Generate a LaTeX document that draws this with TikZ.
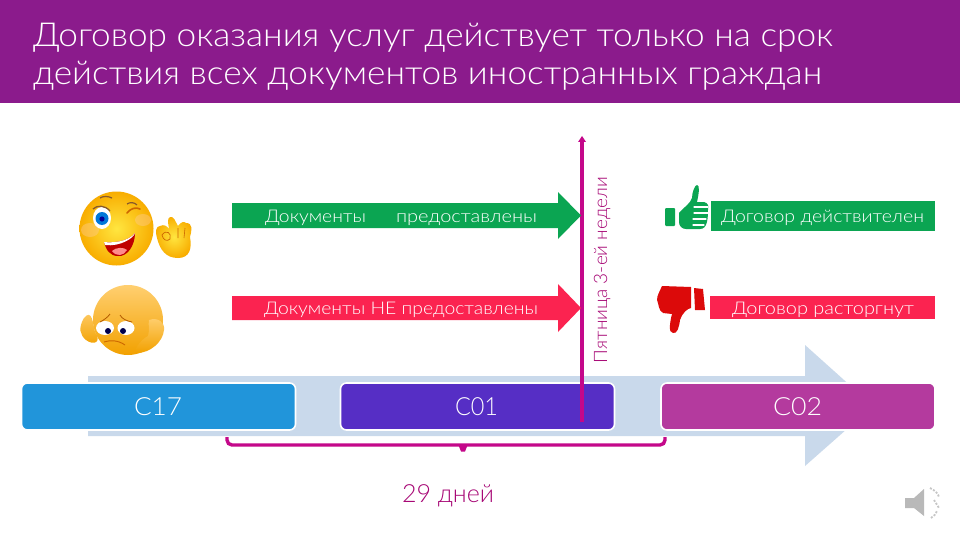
\documentclass[tikz,border=0pt]{standalone}
\usepackage{fontspec}
\usepackage{graphicx}
\setmainfont[FakeStretch=1.12]{Lato Light}
\usetikzlibrary{calc}
\definecolor{titlebg}{HTML}{8B1B8C}
\definecolor{okgreen}{HTML}{0BA552}
\definecolor{nopink}{HTML}{FB2350}
\definecolor{bandblue}{HTML}{C9D9EB}
\definecolor{cblue}{HTML}{2195DA}
\definecolor{cviolet}{HTML}{562EC5}
\definecolor{cplum}{HTML}{B43A9E}
\definecolor{mag}{HTML}{C4088A}
\definecolor{thumbred}{HTML}{DC0A0A}
\definecolor{gold}{HTML}{F7B500}
\definecolor{goldlight}{HTML}{FFE640}
\definecolor{amber}{HTML}{F2A100}
\definecolor{amberlight}{HTML}{FFCF70}
\newcommand\tw[2]{\resizebox{#1pt}{\height}{#2}}
\tikzset{
  lab/.style={anchor=base west,inner sep=0pt,outer sep=0pt,text=white},
  titletext/.style={lab,font=\fontsize{33}{33}\selectfont},
  small/.style={lab,font=\fontsize{17.5}{17.5}\selectfont},
  big/.style={lab,font=\fontsize{25}{25}\selectfont},
  cbox/.style={draw=white,line width=1.6pt,rounded corners=6pt,minimum height=47pt,minimum width=274pt,inner sep=0pt,outer sep=0pt},
  magline/.style={draw=mag,line width=3.4pt}
}
\begin{document}
\begin{tikzpicture}[x=1pt,y=-1pt]
\useasboundingbox (0,0) rectangle (960,540);
\fill[white] (0,0) rectangle (960,540);
% title
\fill[titlebg] (0,0) rectangle (960,103);
\node[titletext] (t1) at (33,47) {\tw{800}{Договор оказания услуг действует только на срок}};
\node[titletext] (t2) at (33,85) {\tw{789}{действия всех документов иностранных граждан}};
% big timeline arrow
\fill[bandblue] (88,376) -- (805,376) -- (805,345) -- (873,406) -- (805,466) -- (805,436) -- (88,436) -- cycle;
% process boxes
\node[cbox,fill=cblue] (c17) at (158.5,406.5) {};
\node[cbox,fill=cviolet] (c01) at (477.5,406.5) {};
\node[cbox,fill=cplum] (c02) at (798,406.5) {};
\node[big] (c17t) at (134,415) {\tw{48}{С17}};
\node[big] (c01t) at (455,415) {\tw{43}{С01}};
\node[big] (c02t) at (773,415) {\tw{49}{С02}};
% vertical line
\coordinate (vtop) at (582,136);
\coordinate (vbot) at (582,422);
\draw[magline] (vbot) -- (582,141);
\fill[mag] (vtop) -- (586,142) -- (578,142) -- cycle;
\node[lab,text=mag!85!black,rotate=90,font=\fontsize{18.5}{18.5}\selectfont] (fri) at (607,363) {\tw{186}{Пятница 3-ей недели}};
% horizontal arrows
\fill[okgreen] (232,203) -- (558,203) -- (558,192) -- (581,215.5) -- (558,239) -- (558,228) -- (232,228) -- cycle;
\fill[nopink] (232,296) -- (558,296) -- (558,284) -- (581,308) -- (558,332) -- (558,320) -- (232,320) -- cycle;
\node[small] (a1) at (265,222) {\tw{101}{Документы}};
\node[small] (a2) at (396,222) {\tw{141}{предоставлены}};
\node[small] (b1) at (264,314.5) {\tw{274}{Документы НЕ предоставлены}};
% right result boxes
\fill[okgreen] (711,201) rectangle (935,231);
\fill[nopink] (710,296) rectangle (935,319);
\node[small] (r1) at (721,222.5) {\tw{203}{Договор действителен}};
\node[small] (r2) at (732,314.5) {\tw{182}{Договор расторгнут}};
% brace
\coordinate (bl) at (227,437);
\coordinate (br) at (665,437);
\coordinate (bm) at (463,445);
\draw[magline,rounded corners=5pt] (bl) -- (227,445) -- (665,445) -- (br);
\fill[mag] (458,444) -- (468,444) -- (465,451.5) -- (461,451.5) -- cycle;
\node[lab,text=mag!85!black,font=\fontsize{25}{25}\selectfont] (days) at (402,502) {\tw{92}{29 дней}};
% thumb up
\fill[okgreen,rounded corners=1pt] (665,208) rectangle (675,226);
\fill[okgreen] (679,213) .. controls (684,207) and (690,204) .. (692,198)
  .. controls (692,192) and (695,185) .. (697,185)
  .. controls (700,185) and (699,193) .. (697,202) -- (704,202)
  .. controls (708,203) and (709,206) .. (708,209)
  .. controls (708,220) and (707,229) .. (700,229) -- (686,229)
  .. controls (682,229) and (679,226) .. (679,222) -- cycle;
\draw[white,line width=1.2pt,line cap=round] (694,207) -- (708,207) (694,213) -- (708,213) (693,219) -- (706,219) (693,225) -- (704,225);
% thumb down
\fill[thumbred] (694,288) -- (703,289) -- (705,310) -- (695,310) -- cycle;
\fill[thumbred] (662,286) -- (691,287) -- (691,308)
  .. controls (687,309) and (683,312) .. (680,320)
  .. controls (679,328) and (677,334) .. (673,333)
  .. controls (668,333) and (670,322) .. (672,314) -- (663,313)
  .. controls (658,310) and (659,304) .. (657,300)
  .. controls (657,295) and (660,291) .. (662,286) -- cycle;
% winking face
\shade[inner color=goldlight,outer color=gold!85!orange] (116.5,228.5) circle (37);
\fill[orange!40,opacity=.4] (90,230) ellipse (9 and 7);
\fill[orange!40,opacity=.4] (143,220) ellipse (8 and 6);
\fill[white] (102,218) ellipse (9 and 11);
\fill[blue!45!cyan!85!black] (102,218.5) circle (6.5);
\fill[blue!60!black] (102,219) circle (2.6);
\draw[brown!70!black,line width=1.3pt] (93,209) .. controls (97,205) and (105,205) .. (110,211);
\draw[brown!70!black,line width=1.2pt] (100,198) .. controls (103,196) and (108,196) .. (112,198);
\draw[orange!80!black,line width=1.6pt,line cap=round] (127,213) .. controls (131,208) and (136,207) .. (140,209);
\draw[brown!70!black,line width=1.2pt] (127,204) .. controls (130,202) and (134,202) .. (137,205);
\fill[red!75!black] (104,242) .. controls (112,243) and (128,242) .. (135,233)
  .. controls (135,246) and (127,257) .. (118,256)
  .. controls (110,256) and (106,250) .. (104,242) -- cycle;
\fill[white] (104,242) .. controls (112,243) and (128,242) .. (135,233)
  .. controls (134,238) and (120,247) .. (105,245) -- cycle;
\fill[red!45!white] (112,251) .. controls (116,247) and (124,247) .. (127,250)
  .. controls (124,256) and (116,257) .. (112,251) -- cycle;
% OK hand
\shade[inner color=goldlight,outer color=gold!85!orange] (157,238) .. controls (155,232) and (156,226) .. (160,226)
  .. controls (164,224) and (167,226) .. (169,229)
  .. controls (168,222) and (167,219) .. (170,217)
  .. controls (174,216) and (175,221) .. (178,226)
  .. controls (181,222) and (184,221) .. (186,223)
  .. controls (193,223) and (192,230) .. (190,237)
  .. controls (192,248) and (190,258) .. (178,258)
  .. controls (166,258) and (160,250) .. (157,238) -- cycle;
\draw[orange!80!black,line width=.7pt] (162,235) .. controls (166,229) and (172,233) .. (170,239) .. controls (167,242) and (163,240) .. (162,235);
\draw[orange!80!black,line width=.6pt] (178,228) -- (178,238) (185,228) -- (184,238);
% sad face
\shade[top color=amberlight,bottom color=amber] (128,320) circle (35);
\fill[white] (105,328) ellipse (9 and 7);
\fill[white] (126,328) ellipse (8.5 and 7);
\fill[blue!30!black] (108,331) circle (3);
\fill[blue!30!black] (123,331) circle (3);
\draw[orange!70!black,line width=.8pt] (100,322) .. controls (104,320) and (108,317) .. (110,314);
\draw[orange!70!black,line width=.8pt] (120,315) .. controls (122,319) and (127,321) .. (132,322);
\draw[orange!80!black,line width=.9pt] (104,342) .. controls (110,340) and (118,340) .. (125,345);
\shade[top color=amberlight,bottom color=amber] (84,318) .. controls (78,328) and (80,335) .. (86,340) .. controls (94,346) and (102,342) .. (95,332) .. controls (93,324) and (92,308) .. (84,318) -- cycle;
\shade[top color=amberlight,bottom color=amber] (149,320) .. controls (158,317) and (165,322) .. (164,330) .. controls (163,342) and (150,353) .. (137,353) .. controls (132,352) and (140,340) .. (148,336) .. controls (150,330) and (148,325) .. (149,320) -- cycle;
% speaker
\fill[gray!55] (905,498) -- (914,498) -- (924,489) -- (924,516) -- (914,508) -- (905,508) -- cycle;
\draw[gray!45,line width=1.8pt,dash pattern=on 2pt off 1.5pt] (930,488) .. controls (936,491) and (938,494) .. (939,497);
\draw[gray!45,line width=1.8pt,dash pattern=on 2pt off 1.5pt] (934,500) -- (939,508);
\draw[gray!45,line width=1.8pt,dash pattern=on 2pt off 1.5pt] (931,518) .. controls (934,516) and (936,514) .. (937,511);
\end{tikzpicture}
\end{document}
